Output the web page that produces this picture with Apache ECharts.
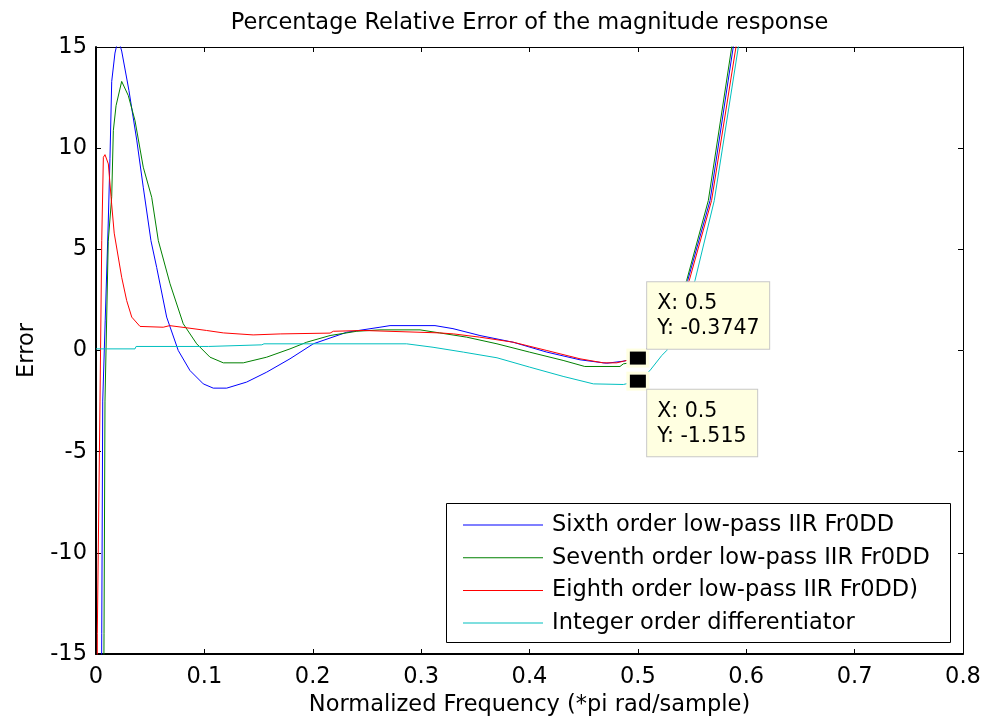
<!DOCTYPE html>
<html>
<head>
<meta charset="utf-8">
<script src="https://cdn.jsdelivr.net/npm/echarts@6/dist/echarts.min.js"></script>
<style>
html,body{margin:0;padding:0;background:#ffffff;}
#chart{width:984px;height:718px;}
</style>
</head>
<body>
<div id="chart"></div>
<script>
// ---- data ----
const titleText = 'Percentage Relative Error of the magnitude response';
const xAxisTitle = 'Normalized Frequency (*pi rad/sample)';
const yAxisTitle = 'Error';
const xMin = 0, xMax = 0.8, xStep = 0.1;
const yMin = -15, yMax = 15, yStep = 5;

const seriesNames = [
  'Sixth order low-pass IIR Fr0DD',
  'Seventh order low-pass IIR Fr0DD',
  'Eighth order low-pass IIR Fr0DD)',
  'Integer order differentiator'
];
const seriesColors = ['#0000FF', '#008000', '#FF0000', '#00BFBF'];

const sixthX = [0, 0.003, 0.0053, 0.0062, 0.0085, 0.0113, 0.0129, 0.0145, 0.0175, 0.0205, 0.0237, 0.0304, 0.0376, 0.0436, 0.0507, 0.056, 0.0652, 0.0759, 0.0867, 0.099, 0.1082, 0.1206, 0.139, 0.1575, 0.179, 0.2005, 0.2313, 0.262, 0.2713, 0.3128, 0.3294, 0.3543, 0.3848, 0.416, 0.4466, 0.4712, 0.4863, 0.5, 0.51, 0.52, 0.53, 0.546, 0.5666, 0.588, 0.6];
const sixthY = [-100, -45, -14, -2.5, 1.5, 6.3, 9.5, 13.3, 14.7, 15.4, 14.8, 12.85, 10.4, 8.07, 5.43, 4.1, 1.65, 0, -0.99, -1.65, -1.86, -1.86, -1.56, -1.07, -0.41, 0.33, 0.9, 1.15, 1.23, 1.23, 1.08, 0.74, 0.41, -0.08, -0.46, -0.63, -0.53, -0.3747, 0.2, 0.95, 1.85, 3.46, 7.41, 15, 18.5];

const seventhX = [0, 0.005, 0.0074, 0.0083, 0.0113, 0.0145, 0.016, 0.0185, 0.0237, 0.0298, 0.036, 0.0436, 0.0514, 0.0575, 0.0683, 0.0805, 0.0929, 0.1052, 0.1175, 0.1359, 0.1575, 0.179, 0.1944, 0.216, 0.2406, 0.262, 0.299, 0.317, 0.342, 0.37, 0.4, 0.431, 0.451, 0.4835, 0.4866, 0.5, 0.51, 0.52, 0.53, 0.545, 0.565, 0.5866, 0.6];
const seventhY = [-100, -45, -14, -2.5, 5.4, 7.6, 10.87, 12.1, 13.3, 12.6, 11.36, 9.06, 7.57, 5.43, 3.3, 1.32, 0.33, -0.33, -0.61, -0.61, -0.33, 0.08, 0.41, 0.74, 0.95, 1.02, 1.02, 0.87, 0.66, 0.33, -0.08, -0.49, -0.79, -0.79, -0.66, -0.55, 0.1, 0.85, 1.75, 3.46, 7.41, 15, 19];

const eighthX = [0, 0.0012, 0.0037, 0.0053, 0.0068, 0.0083, 0.0114, 0.0145, 0.0168, 0.0237, 0.0283, 0.033, 0.0406, 0.062, 0.068, 0.0867, 0.102, 0.1175, 0.145, 0.17, 0.216, 0.219, 0.2466, 0.317, 0.33, 0.354, 0.385, 0.416, 0.4466, 0.468, 0.4805, 0.4866, 0.5, 0.51, 0.52, 0.53, 0.5474, 0.568, 0.5905, 0.6];
const eighthY = [-100, -14, -2.5, 5.43, 9.55, 9.68, 9.22, 7.2, 5.8, 3.62, 2.47, 1.65, 1.19, 1.15, 1.23, 1.1, 0.99, 0.87, 0.77, 0.82, 0.86, 0.95, 0.99, 0.87, 0.82, 0.66, 0.41, 0, -0.41, -0.61, -0.61, -0.53, -0.37, 0.15, 0.85, 1.7, 3.46, 7.41, 15, 18];

const integerX = [0, 0.036, 0.037, 0.1037, 0.105, 0.153, 0.155, 0.2866, 0.311, 0.339, 0.37, 0.4, 0.431, 0.459, 0.4866, 0.5, 0.511, 0.522, 0.5266, 0.5527, 0.5705, 0.5927, 0.6];
const integerY = [0.08, 0.08, 0.2, 0.2, 0.28, 0.28, 0.33, 0.33, 0.16, -0.08, -0.36, -0.82, -1.28, -1.65, -1.68, -1.515, -1.0, -0.25, 0, 3.46, 7.41, 15, 18];

const tipX = [0.5, 0.5];
const tipY = [-0.3747, -1.515];

// ---- build chart ----
const FONT = 'DejaVu Sans';
const zip = (xs, ys) => xs.map((x, i) => [x, ys[i]]);
const xs = [sixthX, seventhX, eighthX, integerX];
const ys = [sixthY, seventhY, eighthY, integerY];

const lineSeries = seriesNames.map((name, i) => ({
  name: name,
  type: 'line',
  data: zip(xs[i], ys[i]),
  showSymbol: false,
  symbol: 'none',
  clip: true,
  color: seriesColors[i],
  lineStyle: { width: 1, color: seriesColors[i] },
  emphasis: { disabled: true },
  z: 2
}));

const tipLabelCommon = {
  show: true,
  fontFamily: FONT,
  fontSize: 20.5,
  lineHeight: 25,
  color: '#000',
  backgroundColor: '#FFFFE1',
  borderColor: '#C8C8C8',
  borderWidth: 1,
  padding: [9, 10, 7.5, 10],
  align: 'left'
};

const tipData = tipX.map((x, i) => ({
  value: [x, tipY[i]],
  label: Object.assign({}, tipLabelCommon, i === 0
    ? { position: [17.3, -2.8], verticalAlign: 'bottom', width: 102 }
    : { position: [17.3, 15.1], verticalAlign: 'top', width: 90 }),
}));

const axisText = { fontFamily: FONT, fontSize: 22.5, color: '#000' };

const option = {
  animation: false,
  backgroundColor: '#ffffff',
  title: {
    text: titleText,
    left: 529.5,
    top: 12,
    padding: 0,
    textAlign: 'center',
    textStyle: { fontFamily: FONT, fontSize: 22.5, fontWeight: 'normal', color: '#000' }
  },
  grid: { left: 96, right: 21, top: 47, bottom: 64, containLabel: false, outerBoundsMode: 'none' },
  legend: {
    orient: 'vertical',
    left: 463,
    top: 513,
    padding: 0,
    itemGap: 8.7,
    itemWidth: 80,
    itemHeight: 1,
    icon: 'rect',
    selectedMode: false,
    data: seriesNames,
    textStyle: { fontFamily: FONT, fontSize: 22.5, color: '#000', lineHeight: 24, padding: [0, 0, 0, 4] }
  },
  graphic: [{
    type: 'rect',
    z: 3,
    shape: { x: 446.5, y: 503.5, width: 504, height: 139 },
    style: { fill: '#ffffff', stroke: '#000000', lineWidth: 1 }
  }],
  xAxis: [{
    type: 'value', min: xMin, max: xMax, interval: xStep,
    position: 'bottom',
    name: xAxisTitle, nameLocation: 'middle', nameGap: 40,
    nameTextStyle: axisText,
    axisLine: { onZero: false, lineStyle: { color: '#000', width: 2 } },
    axisTick: { inside: true, length: 5, lineStyle: { color: '#000' } },
    axisLabel: Object.assign({ margin: 12 }, axisText),
    splitLine: { show: false }
  }, {
    type: 'value', min: xMin, max: xMax, interval: xStep,
    position: 'top',
    axisLine: { onZero: false, lineStyle: { color: '#000', width: 1 } },
    axisTick: { inside: true, length: 5, lineStyle: { color: '#000' } },
    axisLabel: { show: false },
    splitLine: { show: false }
  }],
  yAxis: [{
    type: 'value', min: yMin, max: yMax, interval: yStep,
    position: 'left',
    name: yAxisTitle, nameLocation: 'middle', nameGap: 57,
    nameTextStyle: axisText,
    axisLine: { onZero: false, lineStyle: { color: '#000', width: 2 } },
    axisTick: { inside: true, length: 5, lineStyle: { color: '#000' } },
    axisLabel: Object.assign({ margin: 9 }, axisText),
    splitLine: { show: false }
  }, {
    type: 'value', min: yMin, max: yMax, interval: yStep,
    position: 'right',
    axisLine: { onZero: false, lineStyle: { color: '#000', width: 1 } },
    axisTick: { inside: true, length: 5, lineStyle: { color: '#000' } },
    axisLabel: { show: false },
    splitLine: { show: false }
  }],
  series: lineSeries.concat([
    {
      type: 'scatter',
      data: zip(tipX, tipY),
      symbol: 'rect',
      symbolSize: [23, 19],
      itemStyle: { color: '#FFFFE1', opacity: 1 },
      emphasis: { disabled: true },
      silent: true,
      z: 8
    },
    {
      type: 'scatter',
      data: tipData,
      symbol: 'rect',
      symbolSize: [16, 13],
      itemStyle: { color: '#000000', opacity: 1 },
      emphasis: { disabled: true },
      silent: true,
      z: 9,
      label: Object.assign({}, tipLabelCommon, {
        formatter: p => 'X: ' + p.value[0] + '\nY: ' + p.value[1]
      })
    }
  ])
};

const chart = echarts.init(document.getElementById('chart'), null, { renderer: 'canvas' });
chart.setOption(option);
</script>
</body>
</html>
